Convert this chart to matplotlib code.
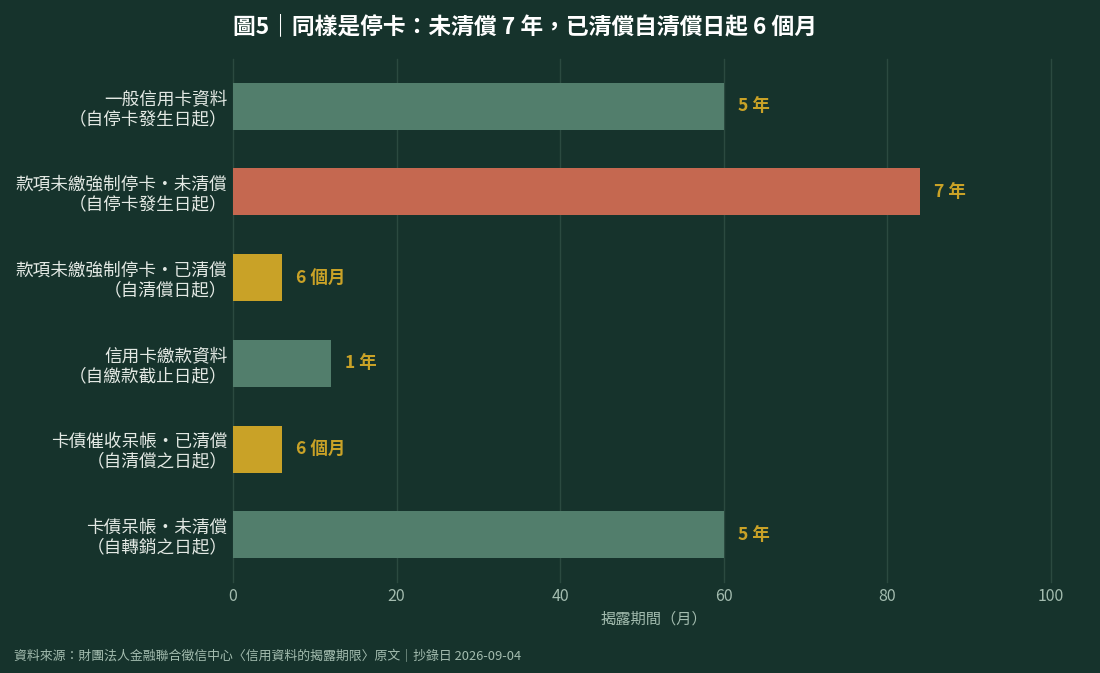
import matplotlib
matplotlib.use("Agg")
import matplotlib.pyplot as plt

plt.rcParams['font.family'] = ['Noto Sans CJK TC', 'DejaVu Sans']

categories = [
    "一般信用卡資料\n（自停卡發生日起）",
    "款項未繳強制停卡・未清償\n（自停卡發生日起）",
    "款項未繳強制停卡・已清償\n（自清償日起）",
    "信用卡繳款資料\n（自繳款截止日起）",
    "卡債催收呆帳・已清償\n（自清償之日起）",
    "卡債呆帳・未清償\n（自轉銷之日起）",
]
months = [60, 84, 6, 12, 6, 60]
value_labels = ["5 年", "7 年", "6 個月", "1 年", "6 個月", "5 年"]
bar_colors = ["#527e6c", "#c56850", "#c9a227", "#527e6c", "#c9a227", "#527e6c"]
xticks = [0, 20, 40, 60, 80, 100]

BG = "#16332c"
GRID = "#2b4a40"
TEXT = "#e3e9e4"
MUTED = "#a3bcaf"
GOLD = "#c9a227"

fig = plt.figure(figsize=(11, 6.73), dpi=100, facecolor=BG)
ax = fig.add_axes([233/1100, 1 - 582/673, (1051-233)/1100, (582-59)/673])
ax.set_facecolor(BG)

y = list(range(len(categories)))
ax.barh(y, months, height=0.55, color=bar_colors, zorder=3)
for yi, v, lab in zip(y, months, value_labels):
    ax.annotate(lab, (v, yi), xytext=(10, 0), textcoords="offset points",
                ha="left", va="center", color=GOLD, fontsize=12.6,
                fontweight="bold", zorder=4)

ax.set_xlim(0, 100)
ax.set_ylim(5.55, -0.55)
ax.set_xticks(xticks)
ax.set_xticklabels([str(t) for t in xticks])
ax.set_yticks(y)
ax.set_yticklabels(categories, fontsize=12.7, color=TEXT, linespacing=1.12)
ax.tick_params(axis="y", length=0, pad=4)
ax.tick_params(axis="x", length=0, pad=4, labelsize=11.5, colors=MUTED)
for t in xticks:
    ax.axvline(t, color=GRID, linewidth=1, zorder=0, clip_on=False)
for s in ax.spines.values():
    s.set_visible(False)

ax.set_xlabel("揭露期間（月）", color=MUTED, fontsize=11)
ax.xaxis.set_label_coords((654 - 233) / (1051 - 233), -0.054)

fig.text(233/1100, 1 - 27/673, "圖5｜同樣是停卡：未清償 7 年，已清償自清償日起 6 個月",
         ha="left", va="center", color="#ffffff", fontsize=16.4, fontweight="bold")

fig.text(14/1100, 1 - 656/673, "資料來源：財團法人金融聯合徵信中心〈信用資料的揭露期限〉原文｜抄錄日 2026-09-04",
         color=MUTED, fontsize=9.3, ha="left", va="center")

fig.savefig("out.png", dpi=100, facecolor=BG)
